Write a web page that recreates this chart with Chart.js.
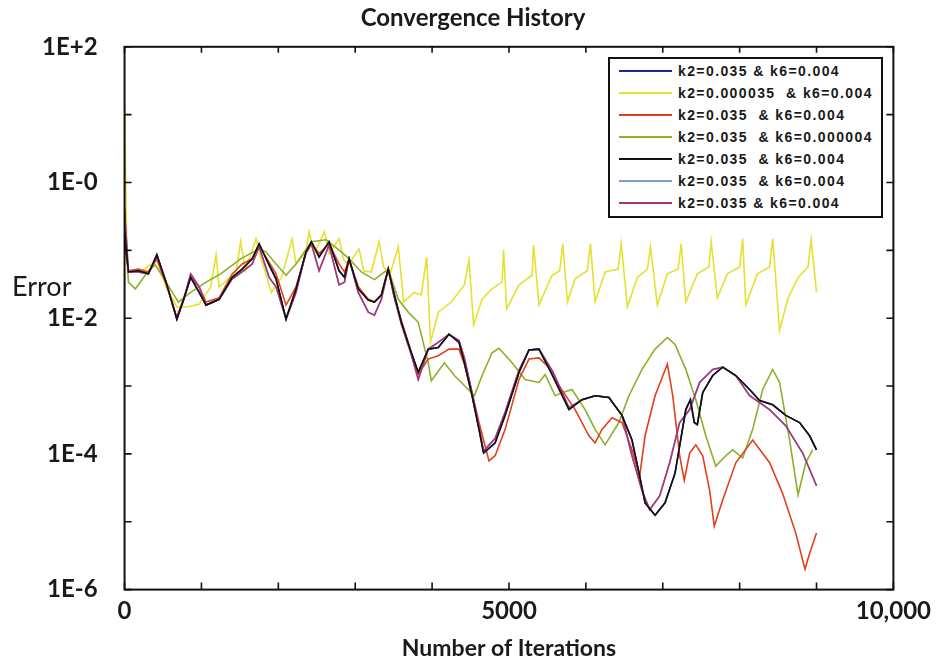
<!DOCTYPE html>
<html>
<head>
<meta charset="utf-8">
<title>Convergence History</title>
<script src="https://cdn.jsdelivr.net/npm/chart.js@4.4.0/dist/chart.umd.min.js"></script>
<style>
  body { margin: 0; background: #fff; }
  #wrap { position: relative; width: 938px; height: 662px; }
  #legend {
    position: absolute; left: 608px; top: 57px; width: 271px; height: 156px;
    border: 2px solid #111; background: #fff; padding-top: 1px; box-sizing: content-box;
  }
  .row { height: 22px; display: flex; align-items: center; }
  .sw { width: 53px; height: 2px; margin: 0 6px 0 9px; }
  .txt { font: bold 14px "Liberation Sans", Arial, sans-serif; letter-spacing: 1.4px; color: #1a1a1a; white-space: pre; }
</style>
</head>
<body>
<div id="wrap">
  <canvas id="conv" width="938" height="662"></canvas>
  <div id="legend"></div>
</div>
<script>
// legend text and colours, in legend order
const seriesLabels = [
  'k2=0.035 & k6=0.004',
  'k2=0.000035  & k6=0.004',
  'k2=0.035  & k6=0.004',
  'k2=0.035  & k6=0.000004',
  'k2=0.035  & k6=0.004',
  'k2=0.035  & k6=0.004',
  'k2=0.035 & k6=0.004'
];
const seriesColors = ['#1f2a80', '#e6e030', '#e2401c', '#8cb02a', '#111111', '#7d9fd0', '#a8357a'];

// black curve (the navy one lies under it)
const blackIter = [0,50,180,310,420,540,680,770,860,970,1060,1230,1400,1530,1660,1750,1880,1970,2100,2230,
  2360,2430,2530,2660,2790,2860,2920,3040,3170,3250,3340,3430,3510,3600,3730,3820,3950,4080,4220,4350,
  4420,4520,4610,4670,4820,4950,5130,5260,5390,5560,5780,5950,6120,6300,6470,6600,6700,6770,6900,7030,
  7160,7300,7360,7410,7450,7520,7650,7780,7950,8130,8260,8430,8600,8780,8910,9000];
const blackErr = [0.19,0.048,0.05,0.045,0.086,0.034,0.0097,0.019,0.04,0.024,0.0156,0.019,0.04,0.053,0.075,0.125,0.061,0.038,0.0097,0.027,
  0.095,0.134,0.08,0.134,0.05,0.04,0.075,0.027,0.0185,0.0173,0.022,0.053,0.022,0.0087,0.0031,0.00159,0.0035,0.0037,0.0058,0.0044,
  0.0022,0.00072,0.00023,0.000103,0.000146,0.00037,0.00159,0.0034,0.0035,0.00148,0.00045,0.00063,0.00072,0.00068,0.00037,0.00016,0.000047,0.000019,0.0000125,0.000019,
  0.000052,0.00045,0.00063,0.00029,0.00027,0.0008,0.00143,0.0019,0.00143,0.00089,0.00061,0.00053,0.00037,0.00029,0.000185,0.000115];

// magenta curve (the light blue one lies under it)
const magentaIter = [0,50,180,310,420,540,680,770,860,970,1060,1230,1400,1530,1660,1750,1880,1970,2100,2230,
  2360,2430,2530,2660,2790,2860,2920,3040,3170,3250,3340,3430,3510,3600,3730,3820,3950,4080,4220,4350,
  4420,4520,4610,4670,4820,4950,5130,5260,5390,5560,5780,5950,6120,6300,6470,6600,6730,6830,6960,7090,
  7220,7350,7480,7650,7780,7950,8130,8390,8600,8820,9000];
const magentaErr = [0.41,0.048,0.048,0.045,0.08,0.034,0.0097,0.019,0.045,0.029,0.0156,0.019,0.038,0.048,0.063,0.113,0.04,0.029,0.0097,0.024,
  0.095,0.125,0.05,0.12,0.031,0.034,0.075,0.024,0.0123,0.0111,0.019,0.053,0.02,0.0082,0.0029,0.00125,0.0035,0.0044,0.0058,0.0047,
  0.0026,0.0008,0.00025,0.00011,0.00017,0.00041,0.0017,0.0034,0.0035,0.0017,0.00048,0.00063,0.00072,0.00068,0.00037,0.000094,0.000029,0.000015,0.000024,0.000074,
  0.00029,0.00045,0.00113,0.00176,0.0019,0.00143,0.00072,0.00045,0.00026,0.000103,0.000034];

const redIter = [0,50,180,310,420,540,680,770,860,970,1060,1230,1400,1530,1660,1750,1880,1970,2100,2230,
  2360,2430,2530,2660,2790,2860,2920,3040,3170,3250,3340,3430,3510,3600,3730,3820,3950,4080,4220,4350,
  4420,4520,4610,4740,4820,4950,5130,5260,5390,5560,5650,5860,6040,6120,6210,6340,6470,6600,6700,6770,
  6900,7060,7130,7220,7280,7350,7430,7520,7610,7670,7780,7950,8170,8390,8560,8730,8850,8910,9000];
const redErr = [0.12,0.05,0.053,0.048,0.075,0.032,0.0103,0.02,0.04,0.029,0.0173,0.02,0.045,0.063,0.075,0.116,0.067,0.045,0.0156,0.029,
  0.09,0.125,0.09,0.125,0.063,0.048,0.072,0.029,0.019,0.0173,0.022,0.053,0.02,0.0093,0.0031,0.0015,0.0025,0.0028,0.0035,0.0035,
  0.0021,0.0008,0.00029,0.000079,0.000094,0.00023,0.00125,0.0025,0.0026,0.0017,0.00102,0.00045,0.000185,0.000146,0.00023,0.00034,0.00029,0.000115,0.000047,0.000185,
  0.00072,0.0021,0.00072,0.000094,0.000041,0.000103,0.000136,0.000094,0.000029,0.0000086,0.000021,0.000074,0.00016,0.000074,0.000026,0.0000068,0.000002,0.0000034,0.0000068];

const greenIter = [0,50,140,310,400,540,700,860,1060,1250,1510,1750,1840,1970,2100,2230,2430,2620,2820,2920,
  3080,3250,3430,3560,3690,3820,3950,3990,4160,4290,4420,4550,4650,4780,4870,5040,5210,5390,5470,5600,
  5690,5820,5990,6120,6250,6430,6560,6730,6900,7060,7160,7300,7430,7560,7690,7820,7910,8040,8170,8300,
  8430,8520,8650,8760,8860,8950];
const greenErr = [0.41,0.034,0.027,0.05,0.061,0.034,0.0173,0.024,0.034,0.045,0.075,0.105,0.095,0.063,0.043,0.063,0.134,0.143,0.095,0.075,
  0.048,0.037,0.053,0.019,0.0123,0.0087,0.0022,0.0012,0.0022,0.00143,0.00102,0.00072,0.00143,0.0031,0.0036,0.0022,0.00125,0.00113,0.00148,0.00072,
  0.0008,0.00089,0.00045,0.00023,0.000136,0.00029,0.00072,0.00176,0.0035,0.0052,0.0041,0.00176,0.00063,0.000185,0.000066,0.000094,0.000115,0.000087,0.00023,0.00089,
  0.00176,0.00113,0.00016,0.000025,0.000074,0.000115];

const yellowIter = [0,15,30,50,210,420,540,680,800,970,1120,1190,1230,1450,1510,1570,1710,1770,1910,2040,
  2180,2230,2360,2400,2470,2600,2660,2790,2850,2910,3050,3110,3210,3310,3370,3450,3560,3630,3770,3860,
  3930,3980,4080,4250,4420,4480,4540,4650,4780,4910,4930,4970,5130,5300,5320,5390,5560,5660,5700,5760,
  5860,6020,6060,6120,6250,6420,6460,6540,6670,6800,6840,6930,7060,7200,7240,7300,7450,7600,7630,7710,
  7840,8000,8040,8080,8230,8390,8430,8520,8630,8760,8890,8930,9000];
const yellowErr = [14,1.0,0.095,0.048,0.048,0.072,0.029,0.0146,0.0146,0.016,0.029,0.086,0.029,0.048,0.134,0.05,0.148,0.08,0.024,0.04,
  0.148,0.063,0.095,0.188,0.09,0.188,0.09,0.148,0.072,0.061,0.105,0.05,0.048,0.134,0.057,0.043,0.113,0.0173,0.024,0.022,
  0.08,0.0044,0.0123,0.0173,0.031,0.072,0.0079,0.019,0.027,0.034,0.102,0.0137,0.031,0.043,0.12,0.0156,0.043,0.05,0.125,0.0173,
  0.038,0.05,0.125,0.0173,0.048,0.053,0.125,0.0146,0.04,0.053,0.113,0.0156,0.045,0.053,0.125,0.0173,0.045,0.057,0.134,0.02,
  0.045,0.057,0.148,0.0156,0.045,0.057,0.148,0.0066,0.02,0.04,0.057,0.143,0.024];

// tick labels
const xTickLabels = { 0: '0', 5000: '5000', 10000: '10,000' };
const yDecades = [-6, -5, -4, -3, -2, -1, 0, 1, 2];

const seriesIter = [blackIter, yellowIter, redIter, greenIter, blackIter, magentaIter, magentaIter];
const seriesErr = [blackErr, yellowErr, redErr, greenErr, blackErr, magentaErr, magentaErr];
// lower order is drawn later (on top)
const drawOrder = [7, 5, 3, 4, 1, 6, 2];

const toPoints = (iters, errs) => iters.map((x, i) => ({ x: x, y: errs[i] }));

const datasets = seriesLabels.map((label, i) => ({
  label: label,
  data: toPoints(seriesIter[i], seriesErr[i]),
  borderColor: seriesColors[i],
  borderWidth: 1.6,
  pointRadius: 0,
  tension: 0,
  fill: false,
  order: drawOrder[i]
}));

// frame, inside tick marks and the "Error" label
const frame = {
  id: 'frame',
  afterDatasetsDraw(chart) {
    const { ctx, chartArea: a, scales } = chart;
    ctx.save();
    ctx.strokeStyle = '#111';
    ctx.lineWidth = 2;
    ctx.strokeRect(a.left, a.top, a.right - a.left, a.bottom - a.top);
    ctx.lineWidth = 1.6;
    ctx.beginPath();
    scales.x.ticks.forEach(t => {
      const px = scales.x.getPixelForValue(t.value);
      ctx.moveTo(px, a.bottom); ctx.lineTo(px, a.bottom - 7);
      ctx.moveTo(px, a.top); ctx.lineTo(px, a.top + 6);
    });
    scales.y.ticks.forEach(t => {
      const py = scales.y.getPixelForValue(t.value);
      ctx.moveTo(a.left, py); ctx.lineTo(a.left + 7, py);
      ctx.moveTo(a.right, py); ctx.lineTo(a.right - 7, py);
    });
    ctx.stroke();
    ctx.fillStyle = '#1a1a1a';
    ctx.font = '27px Lato';
    ctx.textBaseline = 'middle';
    ctx.textAlign = 'left';
    ctx.fillText('Error', 12, a.top + (a.bottom - a.top) * 0.443);
    ctx.restore();
  }
};

document.addEventListener('DOMContentLoaded', function () {
  // html legend
  const legend = document.getElementById('legend');
  seriesLabels.forEach((label, i) => {
    const row = document.createElement('div');
    row.className = 'row';
    row.innerHTML = '<span class="sw" style="background:' + seriesColors[i] + '"></span><span class="txt"></span>';
    row.querySelector('.txt').textContent = label;
    legend.appendChild(row);
  });

  const ctx = document.getElementById('conv').getContext('2d');
  new Chart(ctx, {
    type: 'line',
    data: { datasets: datasets },
    plugins: [frame],
    options: {
      responsive: false,
      animation: false,
      layout: { padding: { left: 15, right: 7, top: 0, bottom: 0 } },
      plugins: {
        legend: { display: false },
        tooltip: { enabled: false },
        title: {
          display: true,
          text: 'Convergence History',
          color: '#1a1a1a',
          font: { family: 'Lato', size: 24, weight: 'bold' },
          padding: { top: 4, bottom: 14 }
        }
      },
      scales: {
        x: {
          type: 'linear',
          min: 0,
          max: 10000,
          grid: { display: false, drawTicks: false },
          border: { display: false },
          ticks: {
            stepSize: 1000,
            autoSkip: false,
            maxRotation: 0,
            padding: 7,
            color: '#1a1a1a',
            font: { family: 'Lato', size: 24, weight: 'bold' },
            callback: v => xTickLabels[v] || ''
          },
          title: {
            display: true,
            text: 'Number of Iterations',
            color: '#1a1a1a',
            font: { family: 'Lato', size: 23, weight: 'bold' },
            padding: { top: 2, bottom: 0 }
          }
        },
        y: {
          type: 'logarithmic',
          min: 1e-6,
          max: 100,
          grid: { display: false, drawTicks: false },
          border: { display: false },
          afterBuildTicks: scale => {
            scale.ticks = yDecades.map(e => ({ value: Math.pow(10, e) }));
          },
          ticks: {
            autoSkip: false,
            padding: 27,
            color: '#1a1a1a',
            font: { family: 'Lato', size: 24, weight: 'bold' },
            callback: v => {
              const e = Math.round(Math.log10(v));
              if (e % 2 !== 0) return '';
              return e > 0 ? '1E+' + e : '1E-' + Math.abs(e);
            }
          }
        }
      }
    }
  });
});
</script>
</body>
</html>
